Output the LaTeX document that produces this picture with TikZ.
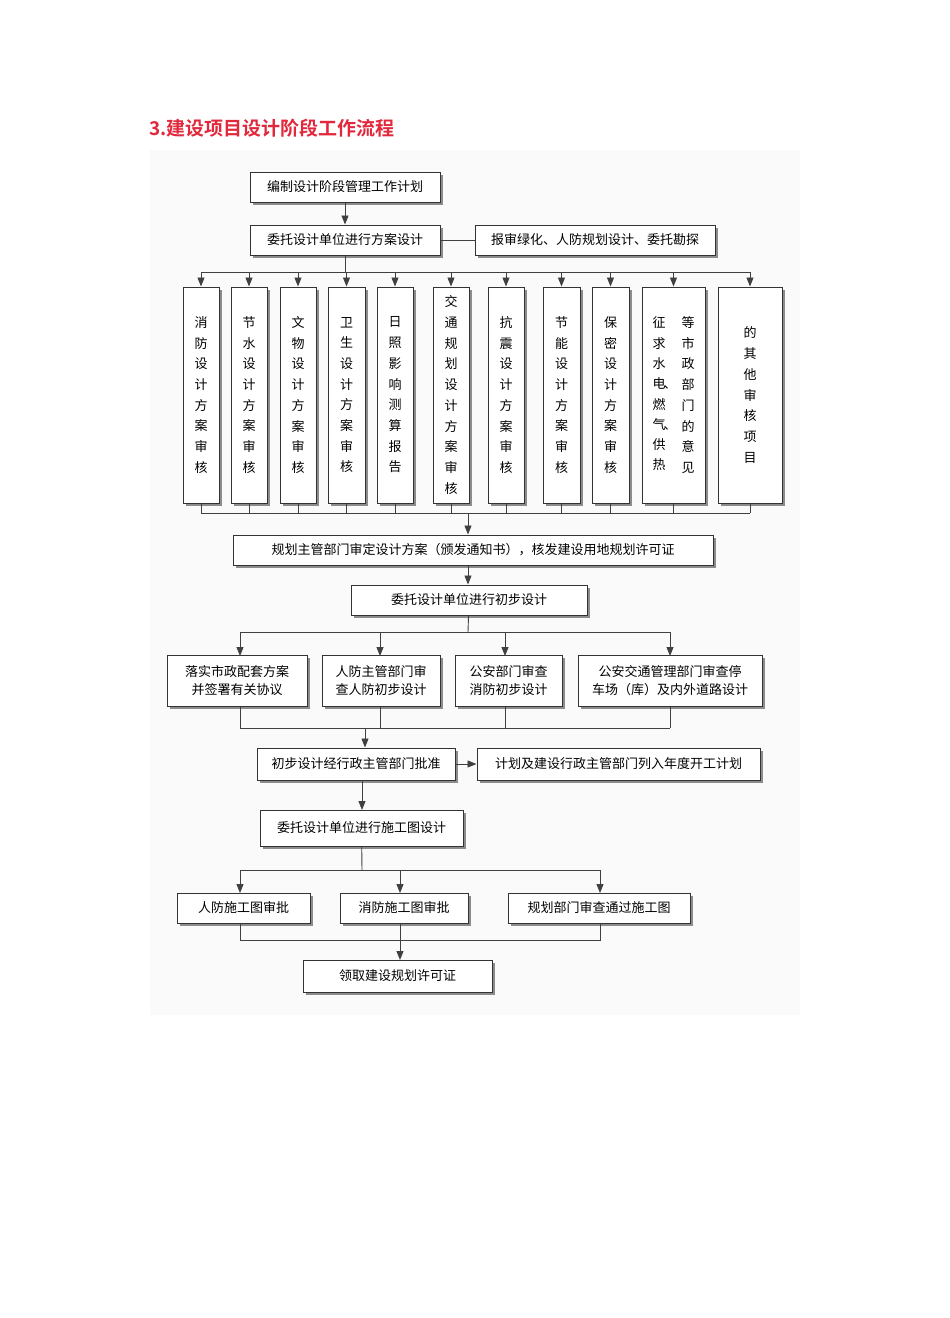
\documentclass[tikz,border=0pt]{standalone}
\usepackage{fontspec}
\setmainfont{Noto Sans CJK SC}
\newfontfamily\cjkb{Noto Sans CJK SC}[BoldFont={* Bold}]
\usetikzlibrary{shadows,arrows.meta}
\definecolor{titlered}{RGB}{225,40,60}
\begin{document}
\begin{tikzpicture}[x=1pt,y=-1pt,
  box/.style={draw=black!80,line width=1pt,fill=white,inner sep=0pt,align=center,
    font=\fontsize{13}{18}\selectfont,
    drop shadow={shadow xshift=2.5pt,shadow yshift=-2.5pt,fill=black!45,opacity=1}},
  vbox/.style={box,minimum height=216pt,align=center,font=\fontsize{13}{20.7}\selectfont},
  ln/.style={draw=black!75,line width=0.9pt},
  ar/.style={ln,-{Triangle[length=9pt,width=7pt]}}]
\useasboundingbox (0,0) rectangle (950,1318);
\fill[black!2] (150,150) rectangle (800,1015);
\node[anchor=west,text=titlered,font=\cjkb\bfseries\fontsize{19}{22}\selectfont] (title) at (146,128) {3.建设项目设计阶段工作流程};

\node[box,minimum width=190pt,minimum height=30pt] (b1) at (345,187) {编制设计阶段管理工作计划};
\node[box,minimum width=190pt,minimum height=30pt] (b2) at (345,240) {委托设计单位进行方案设计};
\node[box,minimum width=240pt,minimum height=30pt] (b2r) at (595,240) {报审绿化、人防规划设计、委托勘探};
\draw[ar] (b1) -- (b2);
\draw[ln] (b2) -- (b2r);

\foreach \n/\x/\w/\t in {
 v1/201/36/{消\\防\\设\\计\\方\\案\\审\\核},
 v2/249/36/{节\\水\\设\\计\\方\\案\\审\\核},
 v3/298/36/{文\\物\\设\\计\\方\\案\\审\\核},
 v4/346.5/37/{卫\\生\\设\\计\\方\\案\\审\\核},
 v5/395/36/{日\\照\\影\\响\\测\\算\\报\\告},
 v6/451/36/{交\\通\\规\\划\\设\\计\\方\\案\\审\\核},
 v7/506/36/{抗\\震\\设\\计\\方\\案\\审\\核},
 v8/561.5/37/{节\\能\\设\\计\\方\\案\\审\\核},
 v9/610.5/37/{保\\密\\设\\计\\方\\案\\审\\核},
 v11/750/64/{的\\其\\他\\审\\核\\项\\目}}
{\node[vbox,minimum width=\w pt] (\n) at (\x,395) {\t};}
\node[vbox,minimum width=63pt] (v10) at (673.5,395) {};
\node[font=\fontsize{13}{20.3}\selectfont,align=center,inner sep=0pt] (v10a) at (659,394) {征\\求\\水\\电\rlap{\kern-2pt、}\\燃\\气\rlap{\kern-2pt、}\\供\\热};
\node[font=\fontsize{13}{20.7}\selectfont,align=center,inner sep=0pt] (v10b) at (688,395) {等\\市\\政\\部\\门\\的\\意\\见};

\coordinate (t1) at (345,272);
\draw[ln] (b2) -- (t1);
\draw[ln] (v1.north |- t1) -- (v11.north |- t1);
\foreach \n in {v1,v2,v3,v4,v5,v6,v7,v8,v9,v10,v11}
  \draw[ar] (\n.north |- t1) -- (\n.north);
\coordinate (u1) at (468,513);
\draw[ln] (v1.south |- u1) -- (v11.south |- u1);
\foreach \n in {v1,v2,v3,v4,v5,v6,v7,v8,v9,v10,v11}
  \draw[ln] (\n.south) -- (\n.south |- u1);

\node[box,minimum width=480pt,minimum height=30pt] (c1) at (473,550) {规划主管部门审定设计方案（颁发通知书），核发建设用地规划许可证};
\draw[ar] (u1) -- (u1 |- c1.north);
\node[box,minimum width=236pt,minimum height=30pt] (c2) at (469,600) {委托设计单位进行初步设计};
\draw[ar] (u1 |- c1.south) -- (u1 |- c2.north);

\node[box,minimum width=140pt,minimum height=51pt] (d1) at (237,681) {落实市政配套方案\\并签署有关协议};
\node[box,minimum width=118pt,minimum height=51pt] (d2) at (381,681) {人防主管部门审\\查人防初步设计};
\node[box,minimum width=107pt,minimum height=51pt] (d3) at (508.5,681) {公安部门审查\\消防初步设计};
\node[box,minimum width=184pt,minimum height=51pt] (d4) at (670,681) {公安交通管理部门审查停\\车场（库）及内外道路设计};
\coordinate (t2) at (468,632);
\draw[ln] (c2) -- (t2);
\draw[ln] (240,632) -- (670,632);
\foreach \n/\x in {d1/240,d2/380,d3/505,d4/670}
  \draw[ar] (\x,632) -- (\x,656);
\coordinate (u2) at (365,728);
\draw[ln] (240,728) -- (670,728);
\foreach \x in {240,380,505,670} \draw[ln] (\x,707) -- (\x,728);

\node[box,minimum width=198pt,minimum height=32pt] (e1) at (356,764) {初步设计经行政主管部门批准};
\node[box,minimum width=283pt,minimum height=32pt] (e2) at (618.5,764) {计划及建设行政主管部门列入年度开工计划};
\draw[ar] (u2) -- (u2 |- e1.north);
\draw[ar] (e1) -- (e2);

\node[box,minimum width=203pt,minimum height=36pt] (f1) at (361.5,828) {委托设计单位进行施工图设计};
\draw[ar] (362,780) -- (362,810);

\node[box,minimum width=133pt,minimum height=30pt] (g1) at (243.5,908) {人防施工图审批};
\node[box,minimum width=128pt,minimum height=30pt] (g2) at (404,908) {消防施工图审批};
\node[box,minimum width=182pt,minimum height=30pt] (g3) at (599,908) {规划部门审查通过施工图};
\draw[ln] (f1) -- (362,870);
\draw[ln] (240,870) -- (600,870);
\foreach \x in {240,400,600} \draw[ar] (\x,870) -- (\x,893);
\draw[ln] (240,923) -- (240,940) -- (600,940) -- (600,923);
\draw[ln] (400,923) -- (400,940);

\node[box,minimum width=189pt,minimum height=32pt] (h1) at (397.5,976) {领取建设规划许可证};
\draw[ar] (400,940) -- (400,960);
\end{tikzpicture}
\end{document}
